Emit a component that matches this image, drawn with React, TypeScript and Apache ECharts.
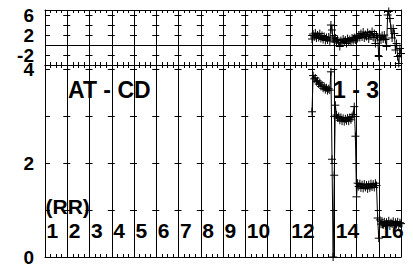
import React, { useEffect, useRef } from "react";
import * as echarts from "echarts";

// ---- data ----
const X_MIN = 0;
const X_MAX = 16;
const SAMPLE_START = 12.0;
const SAMPLE_STEP = 0.05;

// upper panel (difference), one value per sample
const diffValues = [
  1.2, 2.2, 1.6, 2.4, 1.4, 2.0, 1.5, 2.3, 1.3, 1.9, 1.1,
  1.7, 0.9, 1.5, 1.0, 1.6, 0.8,
  4.0, 3.0,
  1.2, 0.6, 1.4, 0.8, 1.1, 0.4, -0.3, 0.9, 0.5, 1.2, 0.7, 1.0, 0.3, 1.3, 0.8, 1.1, 0.6, 1.4, 0.9, 1.5, 1.0, 1.7,
  1.3, 2.0, 1.5, 2.3, 1.6, 2.6, 1.4, 2.1, 1.7, 2.5, 1.2, 2.2, 1.8, 2.7, 1.5, 2.3, 0.3, 2.0, 1.6, -2.3,
  1.6, 1.0, 1.9, 1.2, 2.0, 1.1, -0.3, 6.0, 6.7, 5.3, 3.3, 1.4, 3.3, 2.3, -1.0, 0.3, -2.3, -3.7, -0.7, -1.7,
];

// lower panel (RR), one value per sample
const rrValues = [
  3.09,
  3.86, 3.79, 3.81, 3.73, 3.75, 3.68, 3.71, 3.63, 3.66, 3.59, 3.63, 3.56, 3.6, 3.54, 3.58, 3.55,
  3.94, 2.08, 0.0, 1.74, 3.23,
  3.02, 2.96, 2.99, 2.91, 2.97, 2.89, 2.95, 2.88, 2.94, 2.9, 2.96, 2.89, 2.97, 2.92, 2.99, 3.03,
  3.2, 2.57, 1.28,
  1.57, 1.5, 1.56, 1.47, 1.54, 1.46, 1.55, 1.48, 1.53, 1.45, 1.54, 1.47, 1.56, 1.49, 1.55, 1.48, 1.57, 1.52,
  0.83, 0.4,
  0.79, 0.7, 0.76, 0.68, 0.75, 0.67, 0.74, 0.69, 0.77, 0.66, 0.73, 0.7, 0.76, 0.67, 0.74, 0.69, 0.75, 0.68, 0.73, 0.71,
];

const topTickLabels = [-2, 2, 6];
const bottomTickLabels = [0, 2, 4];
const segmentLabels = ["1", "2", "3", "4", "5", "6", "7", "8", "9", "10", "12", "14", "16"];
const panelTitleLeft = "AT - CD";
const panelTitleRight = "1 - 3";
const unitLabel = "(RR)";

// ---- layout ----
const W = 413;
const H = 269;
const GL = 45;
const GW = 356;
const TOP0 = 10;
const H0 = 55;
const TOP1 = 65;
const H1 = 192;
const UNIT_X = GW / (X_MAX - X_MIN);
const FONT = "'Liberation Sans', Arial, Helvetica, sans-serif";

const PLUS = "path://M0,5L10,5M5,0L5,10";

function makeXAxis(gridIndex: number, position: "top" | "bottom", split: boolean) {
  return {
    type: "value",
    gridIndex,
    position,
    min: X_MIN,
    max: X_MAX,
    interval: 1,
    axisLine: { show: true, onZero: false, lineStyle: { color: "#000", width: 1 } },
    axisTick: { show: true, inside: true, length: 5, lineStyle: { color: "#000", width: 1 } },
    minorTick: { show: true, splitNumber: 4, length: 3, lineStyle: { color: "#000", width: 1 } },
    axisLabel: { show: false },
    splitLine: { show: split, lineStyle: { color: "#000", width: 1, type: "solid" } },
  };
}

function makeYAxis(
  gridIndex: number,
  position: "left" | "right",
  min: number,
  max: number,
  interval: number,
  labels: number[] | null
) {
  return {
    type: "value",
    gridIndex,
    position,
    min,
    max,
    interval,
    axisLine: { show: true, onZero: false, lineStyle: { color: "#000", width: 1 } },
    axisTick: { show: true, inside: true, length: 5, lineStyle: { color: "#000", width: 1 } },
    axisLabel: labels
      ? {
          show: true,
          margin: 11,
          color: "#000",
          fontFamily: FONT,
          fontWeight: "bold",
          fontSize: 19,
          showMaxLabel: true,
          showMinLabel: true,
          formatter: (v: number) => (labels.some((l) => Math.abs(l - v) < 1e-6) ? String(v) : ""),
        }
      : { show: false },
    splitLine: labels
      ? {
          show: true,
          lineStyle: { color: "#000", width: 1, type: [7, UNIT_X - 7], dashOffset: 3.5 },
        }
      : { show: false },
  };
}

export default function App() {
  const ref = useRef<HTMLDivElement>(null);

  useEffect(() => {
    if (!ref.current) return;
    const chart = echarts.init(ref.current, null, { renderer: "svg", width: W, height: H });

    const diffData = diffValues.map((v, i) => [SAMPLE_START + i * SAMPLE_STEP, v]);
    const rrData = rrValues.map((v, i) => [SAMPLE_START + i * SAMPLE_STEP, v]);

    const textFont = (size: number) => `bold ${size}px ${FONT}`;

    const segGraphics = segmentLabels.map((t) => ({
      type: "text",
      x: GL + (Number(t) - 1) * UNIT_X + 1.5,
      y: 230,
      style: { text: t, fill: "#000", font: textFont(21), verticalAlign: "middle", textVerticalAlign: "middle" },
      silent: true,
      z: 100,
    }));

    const option: any = {
      animation: false,
      backgroundColor: "#fff",
      grid: [
        { left: GL, top: TOP0, width: GW, height: H0, containLabel: false },
        { left: GL, top: TOP1, width: GW, height: H1, containLabel: false },
      ],
      xAxis: [
        makeXAxis(0, "bottom", true),
        makeXAxis(0, "top", false),
        makeXAxis(1, "bottom", true),
        makeXAxis(1, "top", false),
      ],
      yAxis: [
        makeYAxis(0, "left", -4, 7, 2, topTickLabels),
        makeYAxis(0, "right", -4, 7, 2, null),
        makeYAxis(1, "left", 0, H1 / 47, 1, bottomTickLabels),
        makeYAxis(1, "right", 0, H1 / 47, 1, null),
      ],
      series: [
        {
          type: "line",
          xAxisIndex: 0,
          yAxisIndex: 0,
          data: diffData,
          symbol: PLUS,
          symbolSize: 8,
          showAllSymbol: true,
          color: "#000",
          lineStyle: { color: "#000", width: 1 },
          itemStyle: { color: "rgba(0,0,0,0)", borderColor: "#000", borderWidth: 1 },
          markLine: {
            silent: true,
            symbol: ["none", "none"],
            label: { show: false },
            lineStyle: { color: "#000", width: 1, type: "solid" },
            data: [{ yAxis: 0 }],
          },
          z: 5,
        },
        {
          type: "line",
          xAxisIndex: 2,
          yAxisIndex: 2,
          data: rrData,
          symbol: PLUS,
          symbolSize: 8,
          showAllSymbol: true,
          color: "#000",
          lineStyle: { color: "#000", width: 1 },
          itemStyle: { color: "rgba(0,0,0,0)", borderColor: "#000", borderWidth: 1 },
          z: 5,
        },
      ],
      graphic: [
        {
          type: "text",
          x: 68,
          y: 90,
          style: { text: panelTitleLeft, fill: "#000", font: textFont(23), verticalAlign: "middle", textVerticalAlign: "middle" },
          silent: true,
          z: 100,
        },
        {
          type: "text",
          x: 333,
          y: 90,
          style: { text: panelTitleRight, fill: "#000", font: textFont(23), verticalAlign: "middle", textVerticalAlign: "middle" },
          silent: true,
          z: 100,
        },
        {
          type: "text",
          x: 45.5,
          y: 206,
          style: { text: unitLabel, fill: "#000", font: textFont(21), verticalAlign: "middle", textVerticalAlign: "middle" },
          silent: true,
          z: 100,
        },
        ...segGraphics,
      ],
    };

    chart.setOption(option);
    return () => chart.dispose();
  }, []);

  return (
    <div
      ref={ref}
      style={{ position: "fixed", left: 0, top: 0, width: W, height: H, background: "#fff" }}
    />
  );
}
